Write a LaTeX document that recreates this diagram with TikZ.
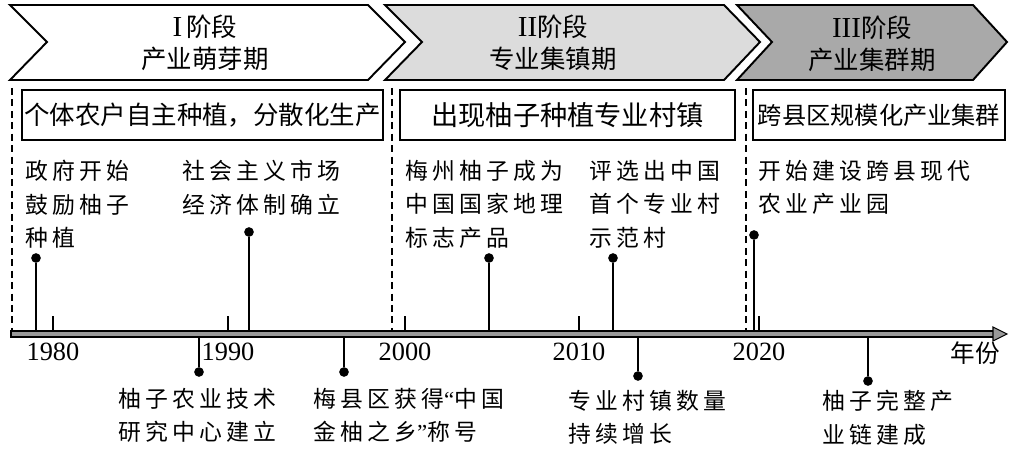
\documentclass[tikz,border=0pt]{standalone}
\usepackage{fontspec}
\setmainfont{Liberation Serif}
\newfontfamily\cjk{Noto Sans CJK SC}
\newfontfamily\cjksp[LetterSpace=18]{Noto Sans CJK SC}
\usetikzlibrary{positioning}
\definecolor{stgLight}{HTML}{DCDCDC}
\definecolor{stgDark}{HTML}{A9A9A9}
\definecolor{axGray}{HTML}{999999}
\newcommand{\rnum}[1]{{\rmfamily\fontsize{16.5}{18}\selectfont #1}}
\newcommand{\oquote}{{\rmfamily “}}
\newcommand{\cquote}{{\rmfamily ”}}

\begin{document}
\begin{tikzpicture}[x=0.02cm, y=-0.02cm,
  stage/.style={draw=black, line width=1.1pt, line join=miter},
  title/.style={font=\cjk\fontsize{14.5}{18}\selectfont, align=center, inner sep=0pt},
  box/.style={draw, line width=1pt, minimum height=1cm, inner sep=0pt},
  sep/.style={line width=0.8pt, dash pattern=on 4pt off 2.5pt},
  evt/.style={font=\cjksp\fontsize{13}{19}\selectfont, align=left, inner sep=0pt, anchor=north west},
  dot/.style={circle, fill, inner sep=0pt, minimum size=5.5pt},
  stem/.style={line width=1pt},
  tick/.style={line width=0.8pt},
  yr/.style={font=\fontsize{15}{15}\selectfont, inner sep=0pt},
]
  \useasboundingbox (0,0) rectangle (1013,456);

  % stages
  \draw[stage, fill=white] (10,5) -- (368,5) -- (405,42) -- (368,80) -- (10,80) -- (47,42) -- cycle;
  \draw[stage, fill=stgLight] (385,5) -- (724,5) -- (760,42) -- (724,80) -- (385,80) -- (422,42) -- cycle;
  \draw[stage, fill=stgDark] (737,5) -- (973,5) -- (1007,42) -- (973,80) -- (737,80) -- (772,42) -- cycle;
  \node[title] (s1) at (205,43) {\rnum{I}\,阶段\\产业萌芽期};
  \node[title] (s2) at (553,43) {\rnum{II}阶段\\专业集镇期};
  \node[title] (s3) at (872,44) {\rnum{III}阶段\\产业集群期};

  \node[box, minimum width=7.22cm, font=\cjk\fontsize{14.5}{17}\selectfont] (b1) at (202.5,115) {个体农户自主种植，分散化生产};
  \node[box, minimum width=6.7cm, font=\cjk\fontsize{15.5}{17}\selectfont] (b2) at (567.5,115) {出现柚子种植专业村镇};
  \node[box, minimum width=5.04cm, font=\cjk\fontsize{13.8}{17}\selectfont] (b3) at (879,115) {跨县区规模化产业集群};

  % dashed separators
  \coordinate (d1t) at (12,88);  \coordinate (d1b) at (12,331);
  \coordinate (d2t) at (392,88); \coordinate (d2b) at (392,331);
  \coordinate (d3t) at (746,88); \coordinate (d3b) at (746,331);
  \foreach \d in {d1,d2,d3} \draw[sep] (\d t) -- (\d b);

  % time axis
  \draw[fill=axGray, line width=0.6pt] (11,331) rectangle (994,337);
  \draw[fill=axGray, line width=0.6pt, line join=miter] (993,327) -- (1007,334) -- (993,341) -- cycle;
  \foreach \x/\y in {53/1980, 228/1990, 405/2000, 579/2010, 759/2020} {
    \coordinate (t\y) at (\x,331);
    \draw[tick] (t\y) -- ++(0,-15);
    \node[yr] (y\y) at (\x,352) {\y};
  }
  \node[font=\cjk\fontsize{14}{14}\selectfont, inner sep=0pt] (unit) at (975,353) {年份};

  % events above the axis
  \node[evt] (eA) at (25,160) {政府开始\\鼓励柚子\\种植};
  \node[evt] (eB) at (182,160) {社会主义市场\\经济体制确立};
  \node[evt] (eC) at (405,160) {梅州柚子成为\\中国国家地理\\标志产品};
  \node[evt] (eD) at (589,160) {评选出中国\\首个专业村\\示范村};
  \node[evt] (eE) at (758,160) {开始建设跨县现代\\农业产业园};
  \foreach \n/\x/\y in {A/36/258, B/249/232, C/489/258, D/613/258, E/754/235} {
    \node[dot] (p\n) at (\x,\y) {};
    \coordinate (a\n) at (\x,331);
    \draw[stem] (p\n) -- (a\n);
  }

  % events below the axis
  \node[evt] (eF) at (118,388) {柚子农业技术\\研究中心建立};
  \node[evt] (eG) at (313,388) {梅县区获得\oquote 中国\\金柚之乡\cquote 称号};
  \node[evt] (eH) at (568,390) {专业村镇数量\\持续增长};
  \node[evt] (eI) at (822,390) {柚子完整产\\业链建成};
  \foreach \n/\x/\y in {F/199/372, G/344/372, H/638/376, I/868/381} {
    \node[dot] (p\n) at (\x,\y) {};
    \coordinate (a\n) at (\x,337);
    \draw[stem] (a\n) -- (p\n);
  }
\end{tikzpicture}
\end{document}
